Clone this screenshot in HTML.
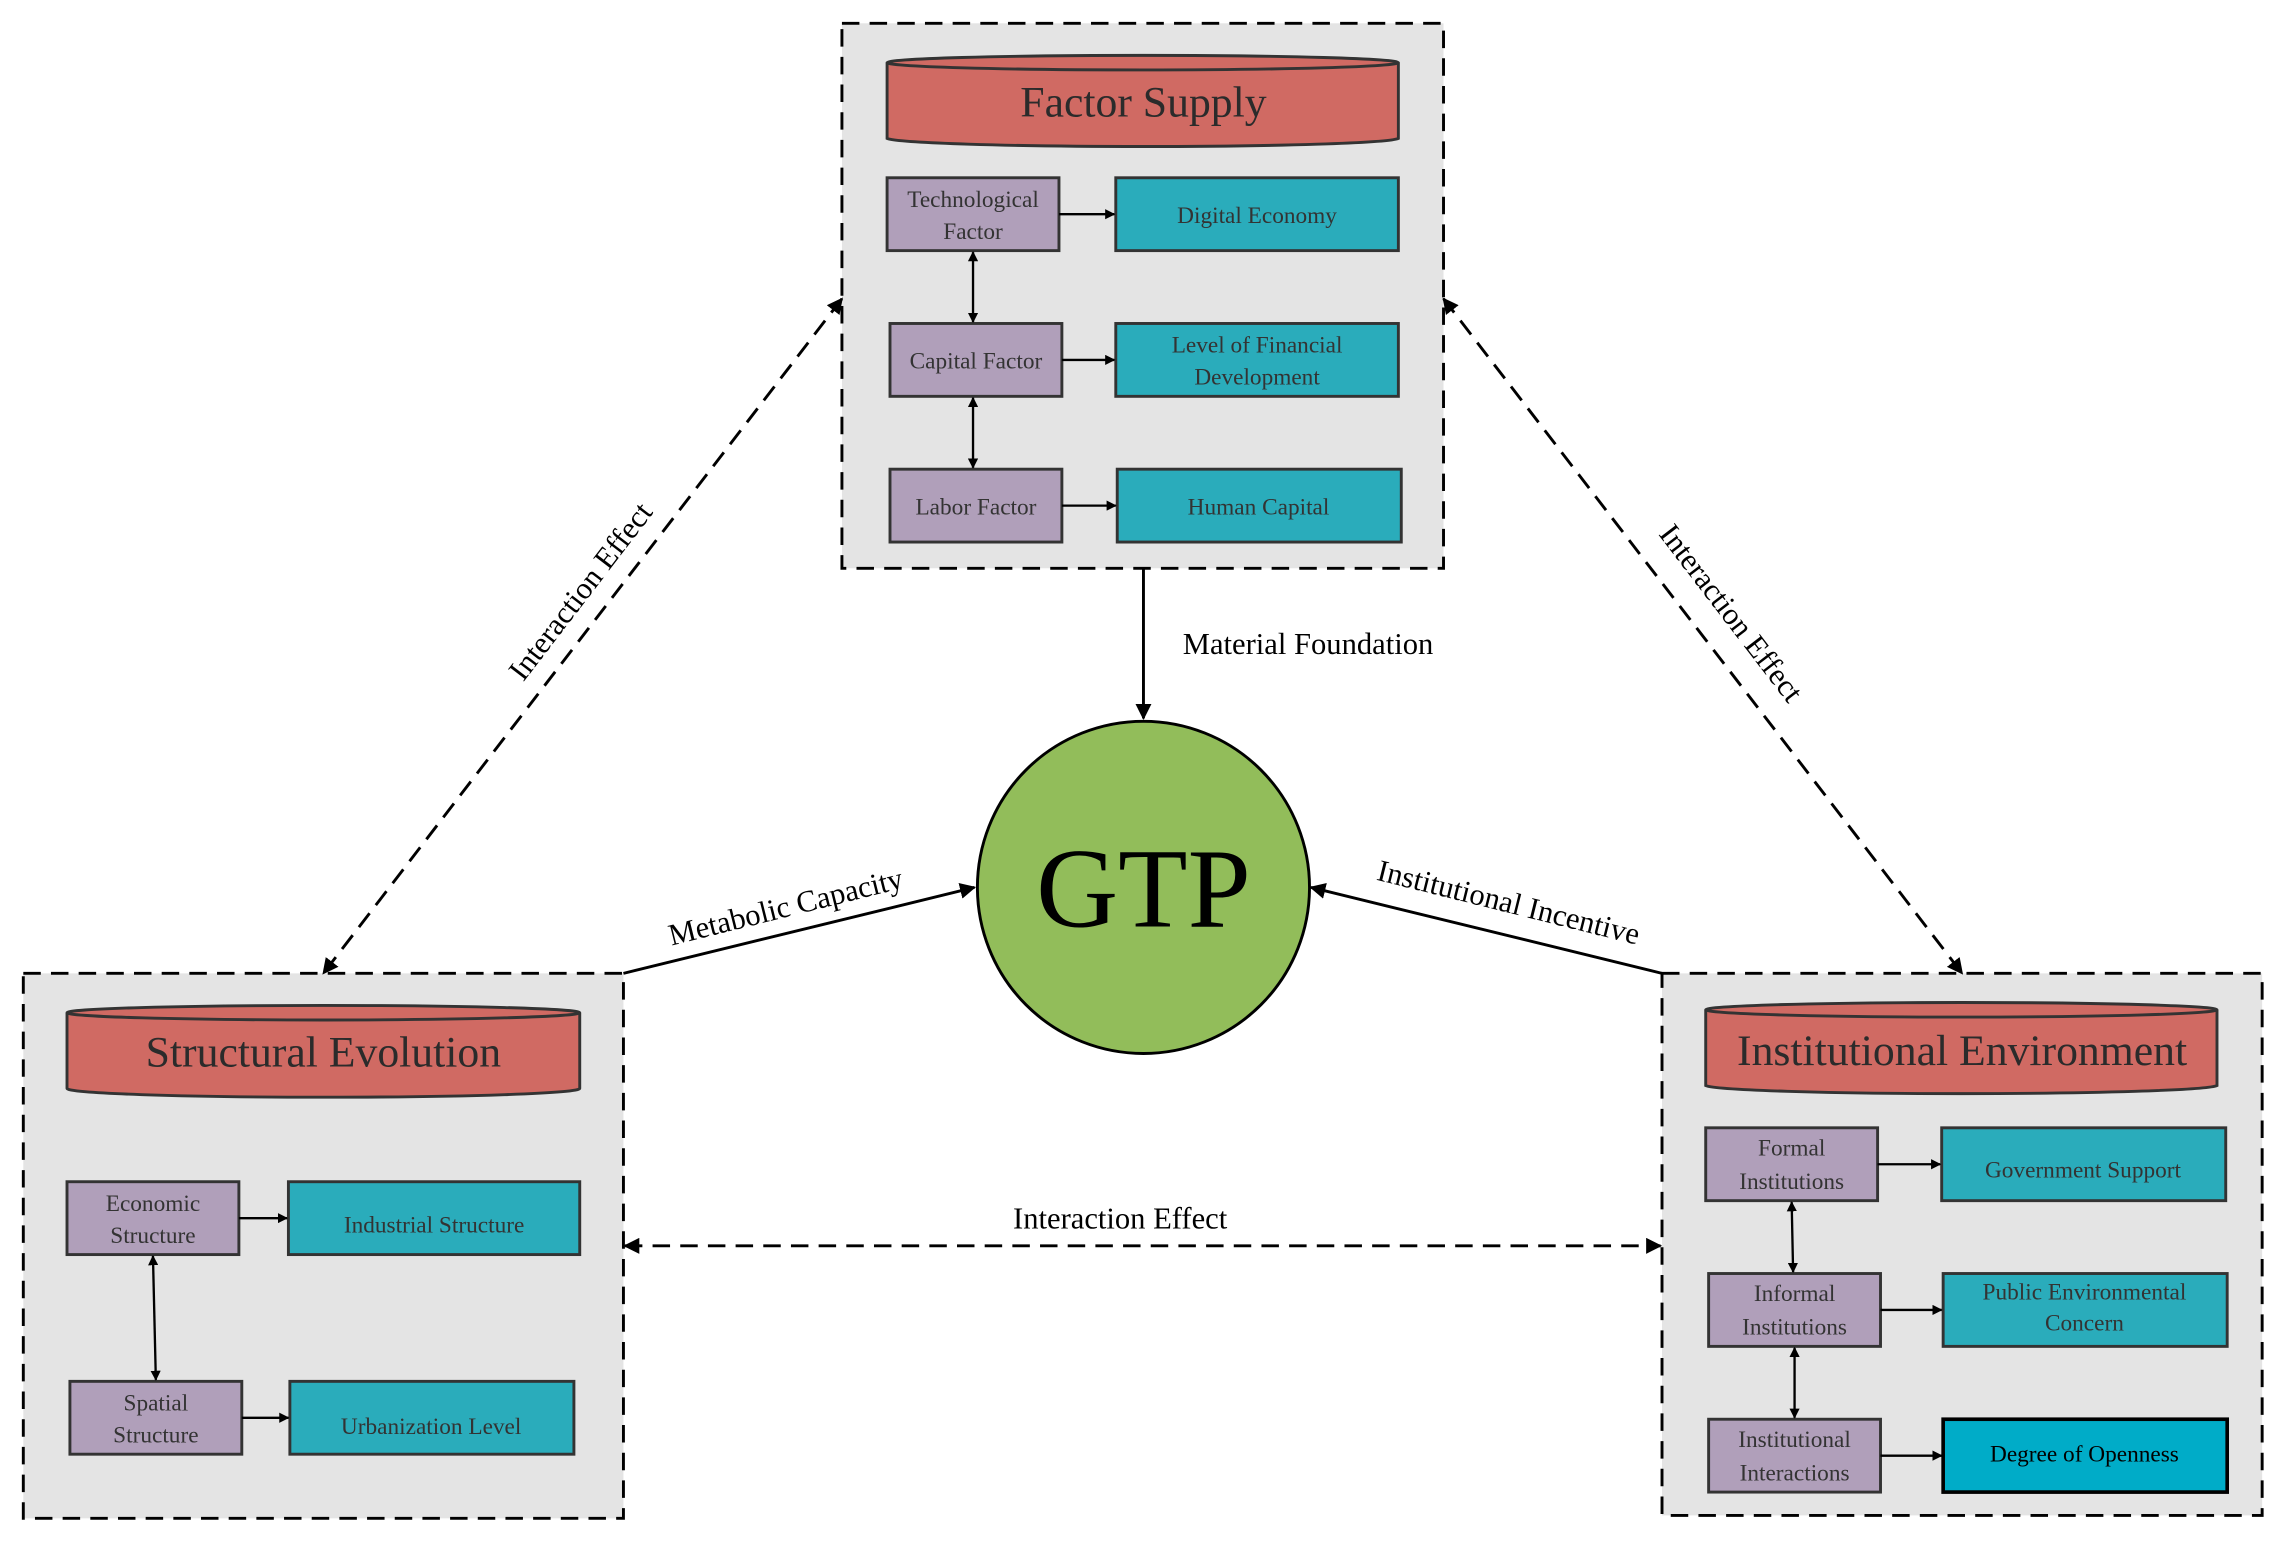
<!DOCTYPE html>
<html><head><meta charset="utf-8"><style>html,body{margin:0;padding:0;background:#fff}svg{display:block}</style></head>
<body>
<svg width="2284" height="1546" viewBox="0 0 1568 1061" preserveAspectRatio="none" xmlns="http://www.w3.org/2000/svg" font-family="Liberation Serif, serif">
<defs>
<marker id="a" viewBox="0 0 10 10" refX="9" refY="5" markerWidth="7" markerHeight="7" orient="auto-start-reverse" markerUnits="userSpaceOnUse"><path d="M0,0L10,5L0,10z" fill="#000"/></marker>
<marker id="b" viewBox="0 0 10 10" refX="9" refY="5" markerWidth="11" markerHeight="11" orient="auto-start-reverse" markerUnits="userSpaceOnUse"><path d="M0,0L10,5L0,10z" fill="#000"/></marker>
</defs>
<g stroke="#000" stroke-width="2" stroke-dasharray="12,7" fill="#e4e4e4">
<rect x="578" y="16" width="413" height="374"/>
<rect x="16" y="668" width="412" height="374"/>
<rect x="1141" y="668" width="412" height="372"/>
</g>
<g stroke="#333" stroke-width="2" fill="#d06a63">
<path d="M609,43 L609,95 A176,6 0 0 0 960,95 L960,43"/><ellipse cx="784.5" cy="43" rx="175.5" ry="5"/>
<path d="M46,695 L46,747 A176,6 0 0 0 398,747 L398,695"/><ellipse cx="222" cy="695" rx="176" ry="5"/>
<path d="M1171,693 L1171,745 A176,6 0 0 0 1522,745 L1522,693"/><ellipse cx="1346.5" cy="693" rx="175.5" ry="5"/>
</g>
<g fill="#2b2b2b" font-size="30" text-anchor="middle">
<text x="785" y="80">Factor Supply</text>
<text x="222" y="732">Structural Evolution</text>
<text x="1347" y="731">Institutional Environment</text>
</g>
<g stroke="#333" stroke-width="2" fill="#b09fba">
<rect x="609" y="122" width="118" height="50"/><rect x="611" y="222" width="118" height="50"/><rect x="611" y="322" width="118" height="50"/>
<rect x="46" y="811" width="118" height="50"/><rect x="48" y="948" width="118" height="50"/>
<rect x="1171" y="774" width="118" height="50"/><rect x="1173" y="874" width="118" height="50"/><rect x="1173" y="974" width="118" height="50"/>
</g>
<g stroke="#333" stroke-width="2" fill="#2aacbb">
<rect x="766" y="122" width="194" height="50"/><rect x="766" y="222" width="194" height="50"/><rect x="767" y="322" width="195" height="50"/>
<rect x="198" y="811" width="200" height="50"/><rect x="199" y="948" width="195" height="50"/>
<rect x="1333" y="774" width="195" height="50"/><rect x="1334" y="874" width="195" height="50"/>
</g>
<rect x="1334" y="974" width="195" height="50" fill="#00acc8" stroke="#000" stroke-width="2.5"/>
<g fill="#333" font-size="16" text-anchor="middle">
<text x="668" y="142">Technological</text><text x="668" y="164">Factor</text>
<text x="670" y="253">Capital Factor</text>
<text x="670" y="353">Labor Factor</text>
<text x="863" y="153">Digital Economy</text>
<text x="863" y="242">Level of Financial</text><text x="863" y="264">Development</text>
<text x="864" y="353">Human Capital</text>
<text x="105" y="831">Economic</text><text x="105" y="853">Structure</text>
<text x="107" y="968">Spatial</text><text x="107" y="990">Structure</text>
<text x="298" y="846">Industrial Structure</text>
<text x="296" y="984">Urbanization Level</text>
<text x="1230" y="793">Formal</text><text x="1230" y="816">Institutions</text>
<text x="1232" y="893">Informal</text><text x="1232" y="916">Institutions</text>
<text x="1232" y="993">Institutional</text><text x="1232" y="1016">Interactions</text>
<text x="1430" y="808">Government Support</text>
<text x="1431" y="892">Public Environmental</text><text x="1431" y="913">Concern</text>
<text x="1431" y="1003" fill="#000">Degree of Openness</text>
</g>
<g stroke="#000" stroke-width="1.6" marker-end="url(#a)">
<line x1="727" y1="147" x2="765" y2="147"/><line x1="729" y1="247" x2="765" y2="247"/><line x1="729" y1="347" x2="766" y2="347"/>
<line x1="164" y1="836" x2="197" y2="836"/><line x1="166" y1="973" x2="198" y2="973"/>
<line x1="1289" y1="799" x2="1332" y2="799"/><line x1="1291" y1="899" x2="1333" y2="899"/><line x1="1291" y1="999" x2="1333" y2="999"/>
</g>
<g stroke="#000" stroke-width="1.6" marker-end="url(#a)" marker-start="url(#a)">
<line x1="668" y1="173" x2="668" y2="221"/><line x1="668" y1="273" x2="668" y2="321"/>
<line x1="105" y1="862" x2="107" y2="947"/>
<line x1="1230" y1="825" x2="1231" y2="873"/><line x1="1232" y1="925" x2="1232" y2="973"/>
</g>
<circle cx="785" cy="609" r="114" fill="#92bd5a" stroke="#000" stroke-width="2"/>
<text x="785" y="636" font-size="78" text-anchor="middle" fill="#000">GTP</text>
<g stroke="#000" stroke-width="2" marker-end="url(#b)">
<line x1="785" y1="390" x2="785" y2="493"/>
<line x1="428" y1="668" x2="669" y2="609"/>
<line x1="1141" y1="668" x2="900" y2="609"/>
</g>
<g stroke="#000" stroke-width="2" stroke-dasharray="12,7" marker-end="url(#b)" marker-start="url(#b)" fill="none">
<line x1="578" y1="205" x2="222" y2="668"/>
<line x1="991" y1="205" x2="1347" y2="668"/>
<line x1="429" y1="855" x2="1140" y2="855"/>
</g>
<g fill="#000" font-size="21" text-anchor="middle">
<text x="898" y="449">Material Foundation</text>
<text x="769" y="843">Interaction Effect</text>
<text transform="translate(404,410) rotate(-52.5)">Interaction Effect</text>
<text transform="translate(1183,425) rotate(52.5)">Interaction Effect</text>
<text transform="translate(541,629) rotate(-14)">Metabolic Capacity</text>
<text transform="translate(1034,626) rotate(14)">Institutional Incentive</text>
</g>
</svg>
</body></html>
